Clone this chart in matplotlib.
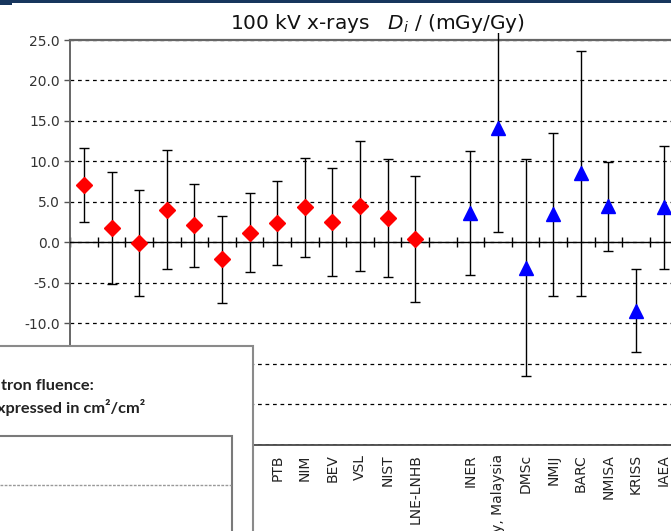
import numpy as np
import matplotlib
matplotlib.use("Agg")
import matplotlib.pyplot as plt
from matplotlib.patches import Rectangle
from matplotlib.lines import Line2D

# ---------------- data ----------------
categories = ["ARPANSA", "NRC", "METAS", "ENEA", "LNMRI", "NPL", "VNIIM",
              "PTB", "NIM", "BEV", "VSL", "NIST", "LNE-LNHB", "",
              "INER", "Nuclear Agency, Malaysia", "DMSc", "NMIJ", "BARC",
              "NMISA", "KRISS", "IAEA"]
red_idx = list(range(0, 13))
red_vals = [7.1, 1.8, -0.1, 4.0, 2.1, -2.1, 1.2, 2.4, 4.3, 2.5, 4.5, 3.0, 0.4]
red_err = [4.6, 6.9, 6.5, 7.35, 5.1, 5.4, 4.9, 5.2, 6.1, 6.65, 8.05, 7.3, 7.8]
blue_idx = list(range(14, 22))
blue_vals = [3.6, 14.1, -3.15, 3.45, 8.5, 4.45, -8.45, 4.3]
blue_err = [7.7, 12.8, 13.4, 10.1, 15.15, 5.5, 5.15, 7.55]
y_ticks = [-25, -20, -15, -10, -5, 0, 5, 10, 15, 20, 25]
hidden_y = [-25, -20, -15]   # tick labels covered by the overlapping panel
title = "100 kV x-rays   $D_i$ / (mGy/Gy)"

W, H = 671, 531
def fx(px):
    return px / W
def fy(py):
    return 1 - py / H

fig = plt.figure(figsize=(W / 100, H / 100), dpi=100)
fig.patch.set_facecolor("white")

n = len(categories)
ax_left, ax_top, ax_bottom = 70.2, 40.0, 444.5
cat_w = 27.6
ax = fig.add_axes([fx(ax_left), fy(ax_bottom), (n * cat_w) / W, (ax_bottom - ax_top) / H])
ax.set_xlim(0, n)
ax.set_ylim(-25, 25)

# gridlines
ax.set_yticks(y_ticks)
ax.set_yticklabels(["" if v in hidden_y else f"{v:.1f}" for v in y_ticks])
ax.yaxis.grid(True, linestyle=(0, (3, 3)), color="black", linewidth=0.9)
ax.set_axisbelow(True)
ax.tick_params(axis="y", direction="out", length=4.5, width=1, color="#555555",
               labelsize=10, labelcolor="#333333", pad=3)

# main x axis at y = 0 with crossing ticks at category boundaries
ax.spines["bottom"].set_position(("data", 0))
ax.spines["bottom"].set_color("black")
ax.spines["bottom"].set_linewidth(1.0)
ax.spines["bottom"].set_zorder(3)
ax.set_xticks(np.arange(0, n + 1))
ax.set_xticklabels([])
ax.tick_params(axis="x", direction="inout", length=6.5, width=1, color="black")

for s in ["top", "left", "right"]:
    ax.spines[s].set_color("#666666")
ax.spines["top"].set_linewidth(1.6)
ax.spines["left"].set_linewidth(1.4)

# category labels at bottom of plot area
sec = ax.secondary_xaxis(0.0)
sec.set_xticks(np.arange(n) + 0.5)
sec.set_xticklabels(categories, rotation=90, va="top", ha="center")
sec.tick_params(axis="x", length=0, pad=7, labelsize=10, labelcolor="#222222")
sec.spines["bottom"].set_color("#555555")
sec.spines["bottom"].set_linewidth(1.4)

clip_rect = Rectangle((0, -0.02), 1, 1.0375, transform=ax.transAxes)

x_red = np.array(red_idx) + 0.5
x_blue = np.array(blue_idx) + 0.5
for xs, vs, es in [(x_red, red_vals, red_err), (x_blue, blue_vals, blue_err)]:
    cont = ax.errorbar(xs, vs, yerr=es, fmt="none", ecolor="black",
                       elinewidth=1.0, capsize=3.5, capthick=1.0, zorder=4)
    for lc in cont.lines[2]:
        lc.set_clip_path(clip_rect)

ax.plot(x_red, red_vals, linestyle="none", marker="D", ms=8.5,
        color="#ff0000", mec="#ff0000", zorder=5)
ax.plot(x_blue, blue_vals, linestyle="none", marker="^", ms=9.5,
        color="#0000ff", mec="#0000ff", zorder=5)

fig.text(fx(377), fy(28.7), title, ha="center", va="baseline", fontsize=14.5,
         color="#111111")

# top navy bar of the window
fig.add_artist(Rectangle((0, fy(2.5)), 1, 2.5 / H, transform=fig.transFigure,
                         facecolor="#17365d", edgecolor="none", zorder=20))
fig.add_artist(Rectangle((0, fy(4.5)), fx(12), 4.5 / H, transform=fig.transFigure,
                         facecolor="#17365d", edgecolor="none", zorder=20))

# overlapping panel in the lower left
fig.add_artist(Rectangle((fx(-4), fy(545)), fx(257.3), (545 - 345.5) / H,
                         transform=fig.transFigure, facecolor="white",
                         edgecolor="#8a8a8a", linewidth=1.5, zorder=10))
fig.add_artist(Rectangle((fx(-4), fy(545)), fx(235.7), (545 - 436) / H,
                         transform=fig.transFigure, facecolor="white",
                         edgecolor="#7a7a7a", linewidth=1.5, zorder=11))
fig.add_artist(Line2D([fx(0), fx(231)], [fy(485), fy(485)], transform=fig.transFigure,
                      color="#999999", linewidth=1.0, linestyle=(0, (2, 1)), zorder=12))
fig.text(fx(1), fy(386), "tron fluence:", ha="left", va="center", fontsize=11.8,
         fontweight="bold", family="Lato", color="#222222", zorder=12)
fig.text(fx(-3), fy(408), "xpressed in cm²/cm²", ha="left", va="center", fontsize=11.8,
         fontweight="bold", family="Lato", color="#222222", zorder=12)

fig.savefig("out.png", dpi=100, facecolor="white")
